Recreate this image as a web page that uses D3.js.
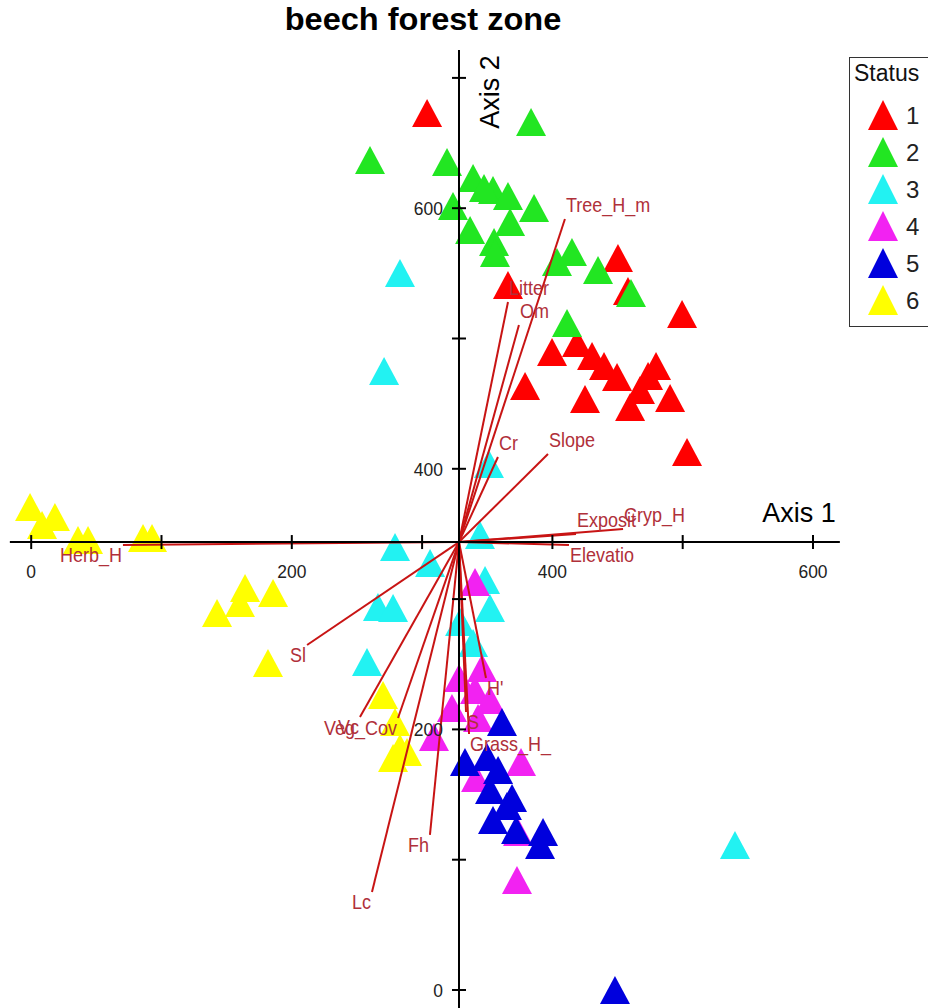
<!DOCTYPE html>
<html><head><meta charset="utf-8">
<script src="https://cdn.jsdelivr.net/npm/d3@7"></script>
<style>
body{margin:0;background:#fff;}
svg{display:block;font-family:"Liberation Sans",Arial,sans-serif;}
</style>
</head><body>
<svg id="chart" width="928" height="1008"></svg>
<script>
// ---------- data ----------
const chartTitle = "beech forest zone";
const axis1Title = "Axis 1";
const axis2Title = "Axis 2";
const legendTitle = "Status";
const statusCodes = [1, 2, 3, 4, 5, 6];
const statusColors = ["#ff0000", "#22e622", "#22f2f2", "#f222f2", "#0000dd", "#ffff00"];
const xTicks = [0, 100, 200, 300, 400, 500, 600];
const yTicks = [0, 100, 200, 300, 400, 500, 600, 700];
const xTickLabels = [0, 200, 400, 600];
const yTickLabels = [0, 200, 400, 600];
const axisOrigin = [328.7, 343.4];
const axis1Extent = [-16, 621];
const axis2Extent = [-15, 721];

const status1 = [[304.2,672.7],[450.7,561.4],[458.4,536.1],[499.9,518.4],[366.3,540.7],[400.1,489.3],
  [419.3,496.2],[430.8,486.2],[440.0,478.5],[450.0,470.1],[479.9,478.5],[473.8,470.9],[467.6,460.1],
  [425.4,453.2],[460.0,447.1],[490.7,454.0],[379.4,463.2],[503.7,412.5]];
const status2 = [[260.4,636.6],[319.5,635.1],[384.0,665.8],[339.5,622.8],[354.8,613.6],[366.3,609.0],
  [324.1,601.3],[386.3,599.8],[337.2,582.9],[367.9,589.0],[355.6,573.7],[356.3,565.3],[403.9,558.3],
  [415.4,566.0],[435.4,552.2],[460.7,534.6],[411.6,511.5],[347.9,615.2]];
const status3 = [[283.4,549.9],[271.2,474.7],[351.7,403.3],[344.8,348.8],[279.6,339.6],[306.5,327.3],
  [266.5,293.6],[278.1,292.8],[348.7,314.3],[352.5,292.8],[329.5,282.0],[339.5,265.9],[258.1,251.4],
  [540.5,110.9]];
const status4 = [[341.0,312.8],[346.4,246.7],[328.7,239.1],[341.0,229.9],[352.5,222.2],[323.3,216.0],
  [343.3,208.4],[309.5,193.8],[376.3,174.6],[341.8,162.3],[374.0,120.9],[373.2,84.0]];
const status5 = [[361.7,205.3],[333.3,174.6],[350.2,178.4],[358.7,168.5],[352.5,153.1],[369.4,147.0],
  [354.8,130.1],[372.5,122.4],[393.2,120.9],[390.9,110.9],[448.4,-0.4],[365.5,140.8]];
const status6 = [[-0.5,370.3],[18.6,362.6],[8.7,356.5],[36.3,345.0],[44.0,345.0],[86.2,346.5],
  [93.1,346.5],[164.5,308.1],[186.0,304.3],[160.6,296.6],[143.0,288.9],[182.1,250.6],[270.4,226.0],
  [279.6,205.3],[283.4,185.3],[278.1,177.7],[288.8,182.3]];
const statusPoints = [status1, status2, status3, status4, status5, status6];

const vectorNames = ["Tree_H_m","Litter","Om","Cr","Slope","Exposit","Cryp_H","Elevatio","Herb_H",
  "Sl","Veg_Cov","Vc","Lc","Fh","H'","S","Grass_H_"];
const vectorX = [410.0,366.3,374.7,358.6,397.0,418.5,454.6,413.1,70.8,212.1,281.9,252.7,261.9,306.4,349.4,334.1,336.4];
const vectorY = [591.3,527.6,510.0,408.7,411.0,349.6,353.4,341.2,341.2,264.4,208.4,209.1,74.8,118.6,239.1,213.0,196.1];

// ---------- drawing ----------
const svg = d3.select("#chart");
const x = d3.scaleLinear().domain([0, 600]).range([30.7, 812.5]);
const y = d3.scaleLinear().domain([0, 700]).range([989.5, 77.4]);
const ox = x(axisOrigin[0]), oy = y(axisOrigin[1]);
const triW = 30, triH = 28;
const tri = (cx, cy, w, h) => `M${cx},${cy - h/2}L${cx + w/2},${cy + h/2}L${cx - w/2},${cy + h/2}Z`;

// points
statusPoints.forEach((pts, i) => {
  svg.append("g").selectAll("path").data(pts).join("path")
    .attr("d", d => tri(x(d[0]), y(d[1]), triW, triH))
    .attr("fill", statusColors[i]);
});

// vectors
const vecs = vectorNames.map((n, i) => ({name: n, vx: vectorX[i], vy: vectorY[i]}));
svg.append("g").selectAll("line").data(vecs).join("line")
  .attr("x1", ox).attr("y1", oy)
  .attr("x2", d => x(d.vx)).attr("y2", d => y(d.vy))
  .attr("stroke", "#c81414").attr("stroke-width", 2);

// axes
const gx = svg.append("g").attr("transform", `translate(0,${oy})`)
  .call(d3.axisBottom(x).tickValues(xTicks).tickSizeInner(7).tickSizeOuter(0)
    .tickFormat(d => xTickLabels.includes(d) ? d : ""));
gx.select(".domain").remove();
gx.append("line").attr("x1", x(axis1Extent[0])).attr("x2", x(axis1Extent[1]))
  .attr("stroke", "#000").attr("stroke-width", 2);
gx.selectAll(".tick line").attr("y1", -7).attr("y2", 7).attr("stroke", "#000").attr("stroke-width", 2);
gx.selectAll(".tick text").attr("y", null).attr("dy", null)
  .attr("transform", "translate(0,36) scale(0.92,1)")
  .attr("font-size", 19).attr("font-family", "Liberation Sans, Arial, sans-serif")
  .attr("fill", "#222").attr("text-anchor", "middle");

const gy = svg.append("g").attr("transform", `translate(${ox},0)`)
  .call(d3.axisLeft(y).tickValues(yTicks).tickSizeInner(7).tickSizeOuter(0)
    .tickFormat(d => yTickLabels.includes(d) ? d : ""));
gy.select(".domain").remove();
gy.append("line").attr("y1", y(axis2Extent[0])).attr("y2", y(axis2Extent[1]))
  .attr("stroke", "#000").attr("stroke-width", 2);
gy.selectAll(".tick line").attr("x1", -7).attr("x2", 7).attr("stroke", "#000").attr("stroke-width", 2);
gy.selectAll(".tick text").attr("x", null).attr("dy", null)
  .attr("transform", "translate(-16,7) scale(0.92,1)")
  .attr("font-size", 19).attr("font-family", "Liberation Sans, Arial, sans-serif")
  .attr("fill", "#222").attr("text-anchor", "end");

// vector labels
svg.append("g").selectAll("text").data(vecs).join("text")
  .attr("transform", d => {
    const ex = x(d.vx), ey = y(d.vy);
    const tx = d.vx >= axisOrigin[0] ? ex + 1 : ex - 1;
    const ty = ey < oy - 3 ? ey - 7 : ey + 17;
    return `translate(${tx},${ty}) scale(0.9,1)`;
  })
  .attr("text-anchor", d => d.vx >= axisOrigin[0] ? "start" : "end")
  .attr("font-size", 20).attr("fill", "#b0303a")
  .text(d => d.name);

// axis titles
svg.append("text").attr("x", x(axis1Extent[1]) - 4).attr("y", oy - 20)
  .attr("text-anchor", "end").attr("font-size", 27).attr("fill", "#000").text(axis1Title);
svg.append("text").attr("transform", `translate(${ox + 40},${y(axis2Extent[1]) + 42}) rotate(-90)`)
  .attr("text-anchor", "middle").attr("font-size", 27).attr("fill", "#000").text(axis2Title);

// title
svg.append("text").attr("transform", "translate(423,30) scale(1.05,1)")
  .attr("text-anchor", "middle").attr("font-size", 31).attr("font-weight", "bold")
  .attr("fill", "#000").text(chartTitle);

// legend
const lg = svg.append("g");
lg.append("rect").attr("x", 849.5).attr("y", 57.5).attr("width", 100).attr("height", 269)
  .attr("fill", "#fff").attr("stroke", "#333").attr("stroke-width", 1);
lg.append("text").attr("x", 854).attr("y", 81).attr("font-size", 23).attr("fill", "#111").text(legendTitle);
const ly = d3.scalePoint().domain(statusCodes).range([115, 300]);
statusCodes.forEach((c, i) => {
  lg.append("path").attr("d", tri(883, ly(c), 30, 30)).attr("fill", statusColors[i]);
  lg.append("text").attr("x", 906).attr("y", ly(c) + 9).attr("font-size", 24).attr("fill", "#222").text(c);
});
</script>
</body></html>
